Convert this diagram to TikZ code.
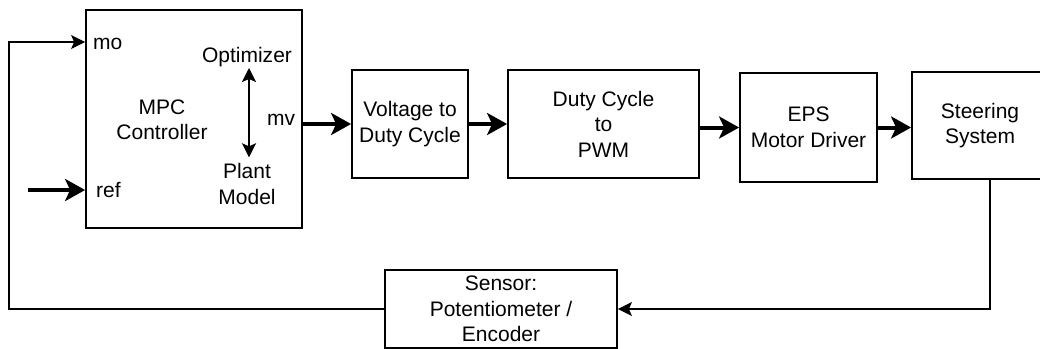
\documentclass[tikz,border=0pt]{standalone}
\usepackage{fontspec}
\setmainfont{Liberation Sans}
\usetikzlibrary{arrows.meta,calc}
\begin{document}
\begin{tikzpicture}[x=1pt,y=-1pt,
  txt/.style={font=\fontsize{21}{25.5}\selectfont},
  blk/.style={draw, line width=1.8pt, inner sep=0pt, align=center, txt},
  lbl/.style={inner sep=0pt, align=center, txt},
  bigarr/.style={line width=4pt, -{Stealth[length=20pt,width=22pt,inset=5pt]}},
  fb/.style={line width=1.5pt},
  fbarr/.style={fb, -{Stealth[length=14pt,width=14pt,inset=3pt]}},
  dbl/.style={line width=2pt, {Stealth[length=14pt,width=14pt,inset=3pt]}-{Stealth[length=14pt,width=14pt,inset=3pt]}}]
\useasboundingbox (0,0) rectangle (1040,348);
% blocks
\node[blk, minimum width=216pt, minimum height=218pt] (mpc) at (194,119) {};
\node[blk, minimum width=116pt, minimum height=108pt] (volt) at (410,124) {Voltage to\\Duty Cycle};
\node[blk, minimum width=191pt, minimum height=108pt] (duty) at (603.5,124) {Duty Cycle\\to\\PWM};
\node[blk, minimum width=137pt, minimum height=109pt] (eps) at (808.5,127.5) {EPS\\Motor Driver};
\node[blk, minimum width=136pt, minimum height=107pt] (steer) at (980,125.5) {Steering\\System};
\node[blk, minimum width=232pt, minimum height=78pt] (sensor) at (501,309) {Sensor:\\Potentiometer /\\Encoder};
% labels inside the MPC block
\node[lbl, anchor=west] (mo) at (93,44) {mo};
\node[lbl, anchor=west] (ref) at (96,190) {ref};
\node[lbl] (opt) at (247,57) {Optimizer};
\node[lbl] (plant) at (247,184) {Plant\\Model};
\node[lbl] (mv) at (281,120) {mv};
\node[lbl] (ctl) at (162,120) {MPC\\Controller};
\draw[dbl] ([xshift=2pt,yshift=-1pt]opt.south) -- ([xshift=2pt,yshift=6pt]plant.north);
% forward path
\coordinate (refsrc) at (28,190);
\draw[bigarr] (refsrc) -- (refsrc -| mpc.west);
\draw[bigarr] (mpc.east |- volt.west) -- (volt.west);
\draw[bigarr] (volt.east) -- (volt.east -| duty.west);
\draw[bigarr] (duty.east |- eps.west) -- (eps.west);
\draw[bigarr] (eps.east) -- (eps.east -| steer.west);
% feedback path
\coordinate (fbl) at (9,42);
\draw[fbarr] ([xshift=10pt]steer.south) |- (sensor.east);
\draw[fbarr] (sensor.west) -| (fbl) -- (fbl -| mpc.west);
\end{tikzpicture}
\end{document}
